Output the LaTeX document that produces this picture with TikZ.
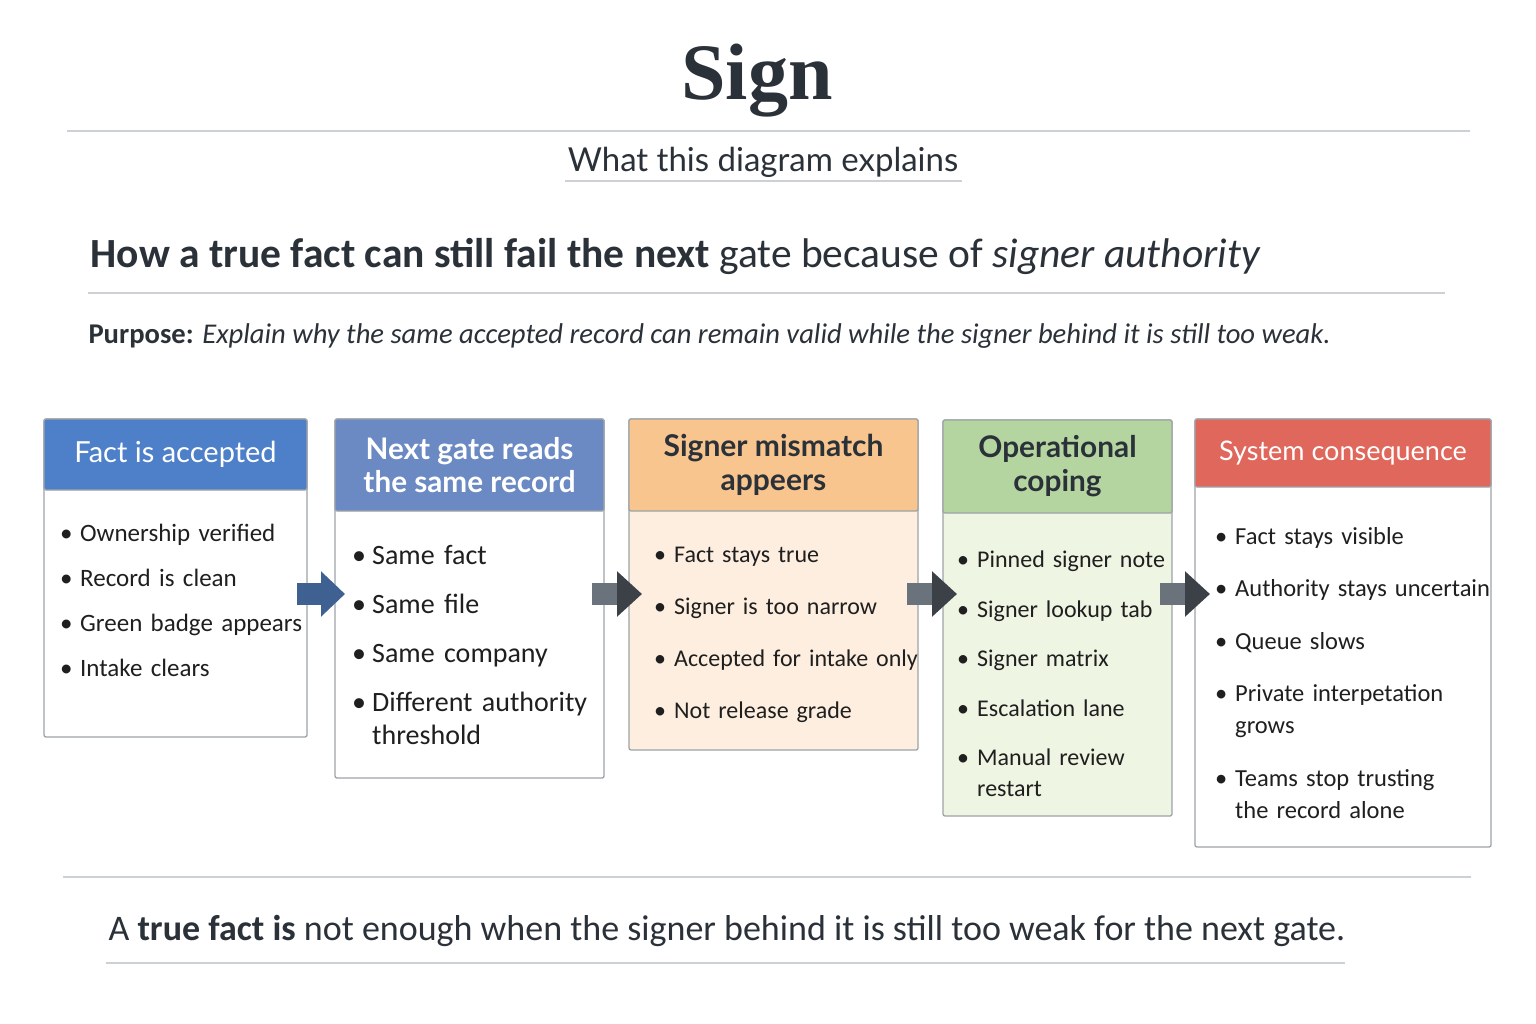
\documentclass[tikz,border=0pt]{standalone}
\usepackage{fontspec}
\setmainfont{Carlito}
\newfontfamily\titlefont{Liberation Serif}
\newfontfamily\headfont{Lato}
\usetikzlibrary{arrows.meta,positioning}
\definecolor{ink}{HTML}{2B3139}
\definecolor{rulegray}{HTML}{CDD1D6}
\definecolor{boxline}{HTML}{9EA3A8}
\definecolor{hdblue}{HTML}{4E80C9}
\definecolor{hdslate}{HTML}{6B8AC3}
\definecolor{hdorange}{HTML}{F8C58E}
\definecolor{bdorange}{HTML}{FDEEDF}
\definecolor{hdgreen}{HTML}{B4D4A0}
\definecolor{bdgreen}{HTML}{EEF5E3}
\definecolor{hdred}{HTML}{E0675B}
\definecolor{arrblue}{HTML}{3F6191}
\definecolor{arrgray}{HTML}{6A737B}
\definecolor{arrdark}{HTML}{3C4147}
\newcommand{\fsz}[2]{\fontsize{#1pt}{#2pt}\selectfont}
\newlength{\itmgap}
\newcommand{\itm}[1]{\hangindent=20pt\hangafter=1\noindent\makebox[20pt][l]{\textbullet}#1\par\vskip\itmgap}
\tikzset{
  frame/.style={draw=boxline, line width=1.3pt, rounded corners=2pt, anchor=north west,
                inner sep=0pt, outer sep=0pt},
  hdr/.style={draw=boxline, line width=1.3pt, rounded corners=2pt, anchor=north west,
              align=center, inner sep=0pt, outer sep=0pt},
  lst/.style={inner sep=0pt, text width=300pt, align=left, text=black!88},
  rule/.style={draw=rulegray, line width=2pt},
  flow/.style={line width=22pt, -{Triangle[length=24pt 0 1, width=44pt 0 1]}},
}
\begin{document}
\begin{tikzpicture}[x=1pt, y=-1pt]
  \useasboundingbox[fill=white] (0,0) rectangle (1536,1024);
  % title
  \node[font=\titlefont\bfseries\fsz{80}{90}, text=ink, anchor=base] (title) at (757,100) {Sign};
  \draw[rule] (67,131) -- (1470,131);
  \node[font=\headfont\fsz{33}{40}, text=ink, anchor=base] (subtitle) at (763,172) {What this diagram explains};
  \draw[rule, line width=2.5pt] (565,181) -- (962,181);
  \node[font=\fsz{41.5}{48}, text=ink, anchor=base west] (heading) at (87,268)
    {\textbf{How a true fact can still fail the next} gate because of \textit{signer authority}};
  \draw[rule] (88,293) -- (1445,293);
  \node[font=\fsz{28.6}{34}, text=ink, anchor=base west] (purpose) at (85,343)
    {\textbf{Purpose:} \textit{Explain why the same accepted record can remain valid while the signer behind it is still too weak.}};

  % Fact is accepted
  \node[frame, fill=white, minimum width=263pt, minimum height=318pt] (f1) at (44,419) {};
  \node[hdr, fill=hdblue, text=white, minimum width=263pt, minimum height=71pt,
        font=\headfont\fsz{29}{34}] (h1) at (f1.north west) {Fact is accepted};
  \node[lst, font={\fsz{25}{32}\setlength{\itmgap}{13pt}}, below right=34pt and 16pt of h1.south west] (l1)
    {\itm{Ownership verified}\itm{Record is clean}\itm{Green badge appears}\itm{Intake clears}};

  % Next gate
  \node[frame, fill=white, minimum width=269pt, minimum height=359pt] (f2) at (335,419) {};
  \node[hdr, fill=hdslate, text=white, minimum width=269pt, minimum height=92pt,
        font=\headfont\bfseries\fsz{29.7}{33}] (h2) at (f2.north west) {Next gate reads\\the same record};
  \node[lst, font={\fsz{28}{33}\setlength{\itmgap}{16pt}}, below right=34pt and 17pt of h2.south west] (l2)
    {\itm{Same fact}\itm{Same file}\itm{Same company}\itm{Different authority\newline threshold}};

  % Signer mismatch
  \node[frame, fill=bdorange, minimum width=289pt, minimum height=331pt] (f3) at (629,419) {};
  \node[hdr, fill=hdorange, text=ink, minimum width=289pt, minimum height=92pt,
        font=\headfont\bfseries\fsz{30}{34}] (h3) at (f3.north west) {Signer mismatch\\appeers};
  \node[lst, font={\fsz{24}{32}\setlength{\itmgap}{20pt}}, below right=36pt and 25pt of h3.south west] (l3)
    {\itm{Fact stays true}\itm{Signer is too narrow}\itm{Accepted for intake only}\itm{Not release grade}};

  % Operational coping
  \node[frame, fill=bdgreen, minimum width=229pt, minimum height=396pt] (f4) at (943,420) {};
  \node[hdr, fill=hdgreen, text=ink, minimum width=229pt, minimum height=93pt,
        font=\headfont\bfseries\fsz{29.8}{34}] (h4) at (f4.north west) {Operational\\coping};
  \node[lst, font={\fsz{24}{31}\setlength{\itmgap}{18.5pt}}, below right=38pt and 14pt of h4.south west] (l4)
    {\itm{Pinned signer note}\itm{Signer lookup tab}\itm{Signer matrix}\itm{Escalation lane}\itm{Manual review\newline restart}};

  % System consequence
  \node[frame, fill=white, minimum width=296pt, minimum height=428pt] (f5) at (1195,419) {};
  \node[hdr, fill=hdred, text=white, minimum width=296pt, minimum height=68pt,
        font=\headfont\fsz{27}{34}] (h5) at (f5.north west) {System consequence};
  \node[lst, font={\fsz{24.5}{32}\setlength{\itmgap}{20.5pt}}, below right=40pt and 20pt of h5.south west] (l5)
    {\itm{Fact stays visible}\itm{Authority stays uncertain}\itm{Queue slows}\itm{Private interpetation\newline grows}\itm{Teams stop trusting\newline the record alone}};

  % arrows
  \coordinate (a1s) at (297,594); \coordinate (a1e) at (345,594);
  \coordinate (a2s) at (592,594); \coordinate (a2e) at (642,594);
  \coordinate (a3s) at (907,594); \coordinate (a3e) at (957,594);
  \coordinate (a4s) at (1160,594); \coordinate (a4e) at (1210,594);
  \draw[flow, draw=arrblue] (a1s) -- (a1e);
  \draw[flow, draw=arrgray, -{Triangle[length=25pt 0 1, width=44pt 0 1, color=arrdark]}] (a2s) -- (a2e);
  \draw[flow, draw=arrgray, -{Triangle[length=25pt 0 1, width=44pt 0 1, color=arrdark]}] (a3s) -- (a3e);
  \draw[flow, draw=arrgray, -{Triangle[length=25pt 0 1, width=44pt 0 1, color=arrdark]}] (a4s) -- (a4e);

  % takeaway
  \draw[rule] (63,877) -- (1471,877);
  \node[font=\fsz{36}{42}, text=ink, anchor=base west] (takeaway) at (105,940)
    {A \textbf{true fact is} not enough when the signer behind it is still too weak for the next gate.};
  \draw[rule] (106,963) -- (1345,963);
\end{tikzpicture}
\end{document}
